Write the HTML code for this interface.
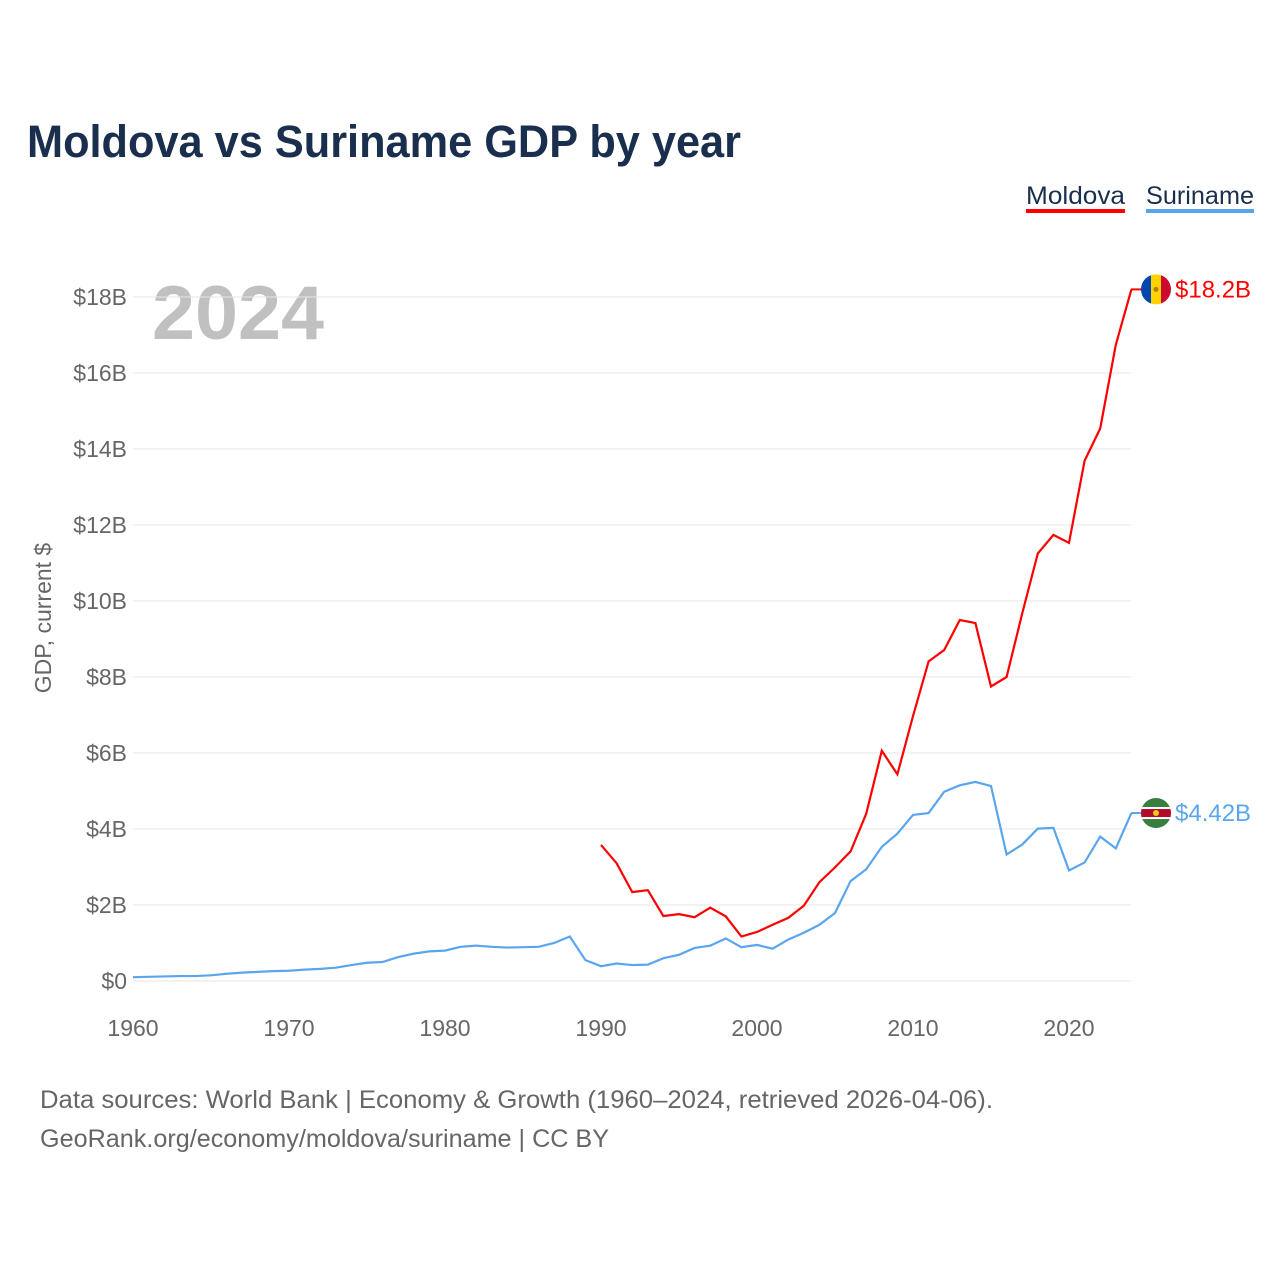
<!DOCTYPE html>
<html><head><meta charset="utf-8">
<style>
body{margin:0;background:#fff;font-family:"Liberation Sans",sans-serif;}
#wrap{position:relative;width:1280px;height:1280px;overflow:hidden;}
</style></head>
<body>
<div id="wrap">
<svg id="chart" width="1280" height="1280">
<defs>
<clipPath id="cm"><circle cx="1156" cy="289" r="15"/></clipPath>
<clipPath id="cs"><circle cx="1156" cy="813" r="15"/></clipPath>
</defs>
<text x="27" y="157" font-size="45" font-weight="bold" fill="#1a2e4d" textLength="714" lengthAdjust="spacingAndGlyphs">Moldova vs Suriname GDP by year</text>
<g><text x="1026" y="204" font-size="25" fill="#1a2e4d" textLength="99" lengthAdjust="spacingAndGlyphs">Moldova</text><rect x="1026" y="209" width="99" height="4" fill="#ff0000"/></g>
<g><text x="1146" y="204" font-size="25" fill="#1a2e4d" textLength="108" lengthAdjust="spacingAndGlyphs">Suriname</text><rect x="1146" y="209" width="108" height="4" fill="#5aa6ee"/></g>
<text x="152" y="339" font-size="76" font-weight="bold" fill="#c0c0c0" textLength="172" lengthAdjust="spacingAndGlyphs">2024</text>
<text transform="translate(51,618) rotate(-90)" text-anchor="middle" font-size="23" fill="#666">GDP, current $</text>
<g id="grid"></g><g id="xt"></g><g id="lines"></g>
<text x="40" y="1108" font-size="25" fill="#666" textLength="953" lengthAdjust="spacingAndGlyphs">Data sources: World Bank | Economy &amp; Growth (1960–2024, retrieved 2026-04-06).</text>
<text x="40" y="1147" font-size="25" fill="#666" textLength="569" lengthAdjust="spacingAndGlyphs">GeoRank.org/economy/moldova/suriname | CC BY</text>
</svg>
</div>
<script>
const yTicks=[0,2,4,6,8,10,12,14,16,18];
const xTicks=[1960,1970,1980,1990,2000,2010,2020];
const moldovaYears=[1990,1991,1992,1993,1994,1995,1996,1997,1998,1999,2000,2001,2002,2003,2004,2005,2006,2007,2008,2009,2010,2011,2012,2013,2014,2015,2016,2017,2018,2019,2020,2021,2022,2023,2024];
const moldovaValues=[3.58,3.1,2.34,2.39,1.71,1.76,1.68,1.93,1.70,1.17,1.29,1.48,1.66,1.98,2.60,2.99,3.41,4.40,6.06,5.44,6.97,8.41,8.71,9.50,9.42,7.75,8.00,9.67,11.25,11.74,11.53,13.69,14.54,16.74,18.2];
const surinameStart=1960;
const surinameValues=[0.10,0.11,0.12,0.13,0.13,0.15,0.19,0.22,0.24,0.26,0.27,0.30,0.32,0.35,0.42,0.48,0.50,0.63,0.72,0.78,0.80,0.90,0.93,0.90,0.88,0.89,0.90,1.0,1.17,0.55,0.39,0.46,0.42,0.43,0.6,0.69,0.87,0.93,1.12,0.89,0.95,0.85,1.09,1.27,1.48,1.79,2.63,2.94,3.53,3.88,4.37,4.42,4.98,5.15,5.24,5.13,3.33,3.59,4.01,4.03,2.91,3.12,3.8,3.49,4.42];
const X=y=>133+(y-1960)*15.6, Y=v=>981-v*38;
const NS="http://www.w3.org/2000/svg";
function mk(t,a,p){const e=document.createElementNS(NS,t);for(const k in a)e.setAttribute(k,a[k]);p.appendChild(e);return e;}
const grid=document.getElementById('grid');
yTicks.forEach(v=>{
 const l=mk('line',{x1:133,x2:1131,y1:Y(v),y2:Y(v),stroke:'#e6e6e6','stroke-width':1},grid);
 
 
 const t=mk('text',{x:127,y:Y(v)+8,'text-anchor':'end','font-size':23,fill:'#666'},grid);
 t.textContent='$'+v+(v?'B':'');
 
 
});
const xt=document.getElementById('xt');
xTicks.forEach(v=>{
 const t=mk('text',{x:X(v),y:1036,'text-anchor':'middle','font-size':23,fill:'#666'},xt);
 t.textContent=v;
 
 
});
const lines=document.getElementById('lines');
const sp=mk('polyline',{fill:'none',stroke:'#5aa6ee','stroke-width':2.2,points:surinameValues.map((v,i)=>X(surinameStart+i)+','+Y(v)).join(' ')},lines);


const mp=mk('polyline',{fill:'none',stroke:'#ff0000','stroke-width':2.2,points:moldovaValues.map((v,i)=>X(moldovaYears[i])+','+Y(v)).join(' ')},lines);


function endLabel(val,col,name,clip,flag){
 const y=Y(val),g=mk('g',{},lines);
 
 
 mk('line',{x1:1131,x2:1142,y1:y,y2:y,stroke:col,'stroke-width':2},g);
 const f=mk('g',{'clip-path':'url(#'+clip+')'},g);
 
 
 document.querySelector('#'+clip+' circle').setAttribute('cy',y);
 flag(f,y);
 const t=mk('text',{x:1175,y:y+8,'font-size':24,fill:col},g);
 t.textContent='$'+val+'B';
}
endLabel(moldovaValues[moldovaValues.length-1],'#ff0000','moldova-end-label','cm',(g,y)=>{
 mk('rect',{x:1141,y:y-15,width:10,height:30,fill:'#0046ae'},g);
 mk('rect',{x:1151,y:y-15,width:10,height:30,fill:'#ffd200'},g);
 mk('rect',{x:1161,y:y-15,width:10,height:30,fill:'#cc092f'},g);
 mk('circle',{cx:1156,cy:y,r:2.5,fill:'#b07e00'},g);
});
endLabel(surinameValues[surinameValues.length-1],'#5aa6ee','suriname-end-label','cs',(g,y)=>{
 mk('rect',{x:1141,y:y-15,width:30,height:30,fill:'#377e3f'},g);
 mk('rect',{x:1141,y:y-6,width:30,height:12,fill:'#fff'},g);
 mk('rect',{x:1141,y:y-4,width:30,height:8,fill:'#b40a2d'},g);
 mk('circle',{cx:1156,cy:y,r:3,fill:'#ecc81d'},g);
});
</script>
</body></html>
